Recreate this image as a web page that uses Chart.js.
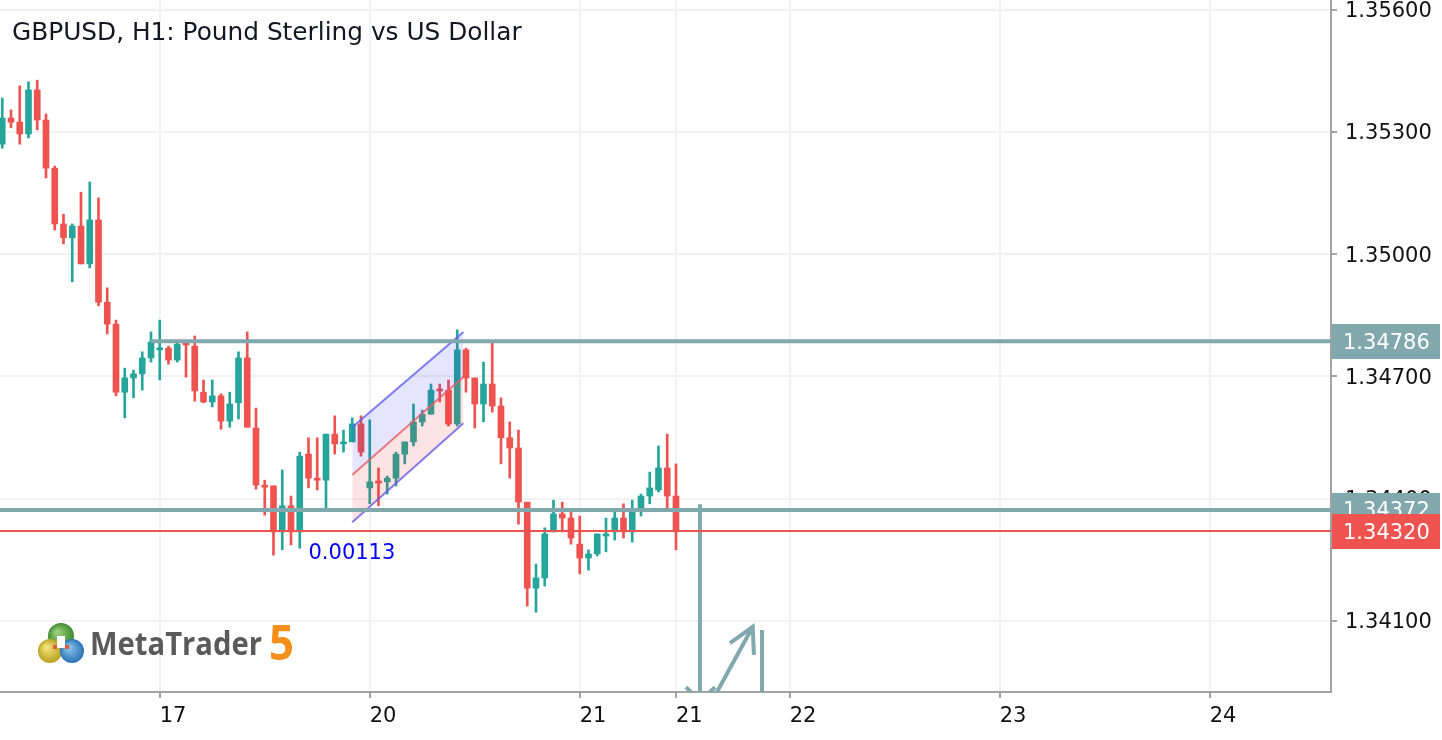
<!DOCTYPE html>
<html><head><meta charset="utf-8">
<script src="https://cdn.jsdelivr.net/npm/chart.js@4.4.0/dist/chart.umd.min.js"></script>
<style>html,body{margin:0;padding:0;background:#fff;overflow:hidden}#wrap{width:1442px;height:740px;position:relative}</style>
</head><body><div id="wrap"><canvas id="c"></canvas></div>
<script>
const chartTitle = "GBPUSD, H1: Pound Sterling vs US Dollar";
const opens = [
1.35270,1.35334,1.35324,1.35295,1.35403,1.35329,1.35211,1.35074,1.35040,1.35069,
1.34976,1.35084,1.34882,1.34828,1.34661,1.34696,1.34706,1.34745,1.34765,1.34769,
1.34740,1.34779,1.34774,1.34661,1.34637,1.34652,1.34590,1.34635,1.34745,1.34573,
1.34431,1.34431,1.34318,1.34382,1.34318,1.34509,1.34450,1.34445,1.34558,1.34534,
1.34539,1.34583,1.34426,1.34441,1.34441,1.34450,1.34509,1.34539,1.34588,1.34607,
1.34666,1.34666,1.34583,1.34765,1.34696,1.34632,1.34681,1.34627,1.34549,1.34524,
1.34391,1.34180,1.34205,1.34318,1.34362,1.34352,1.34288,1.34254,1.34264,1.34308,
1.34318,1.34352,1.34318,1.34377,1.34406,1.34421,1.34475,1.34406];
const highs = [
1.35383,1.35354,1.35413,1.35423,1.35427,1.35344,1.35216,1.35098,1.35074,1.35152,
1.35177,1.35138,1.34917,1.34838,1.34720,1.34715,1.34760,1.34809,1.34838,1.34774,
1.34784,1.34784,1.34799,1.34691,1.34691,1.34657,1.34661,1.34760,1.34809,1.34622,
1.34445,1.34431,1.34470,1.34406,1.34514,1.34549,1.34549,1.34558,1.34603,1.34568,
1.34598,1.34603,1.34593,1.34475,1.34455,1.34514,1.34539,1.34632,1.34617,1.34681,
1.34681,1.34691,1.34814,1.34769,1.34696,1.34735,1.34784,1.34647,1.34588,1.34568,
1.34391,1.34239,1.34328,1.34396,1.34391,1.34367,1.34357,1.34274,1.34313,1.34352,
1.34367,1.34387,1.34396,1.34411,1.34465,1.34529,1.34558,1.34485];
const lows = [
1.35260,1.35310,1.35270,1.35285,1.35305,1.35187,1.35059,1.35025,1.34932,1.34976,
1.34966,1.34873,1.34804,1.34652,1.34598,1.34647,1.34666,1.34735,1.34691,1.34730,
1.34735,1.34698,1.34639,1.34635,1.34625,1.34570,1.34575,1.34595,1.34575,1.34423,
1.34359,1.34261,1.34274,1.34286,1.34278,1.34426,1.34421,1.34374,1.34509,1.34514,
1.34539,1.34504,1.34387,1.34382,1.34411,1.34431,1.34485,1.34529,1.34578,1.34607,
1.34637,1.34578,1.34578,1.34661,1.34573,1.34588,1.34612,1.34485,1.34450,1.34337,
1.34136,1.34121,1.34185,1.34318,1.34318,1.34288,1.34215,1.34224,1.34259,1.34269,
1.34298,1.34303,1.34293,1.34357,1.34387,1.34416,1.34377,1.34274];
const closes = [
1.35334,1.35324,1.35295,1.35403,1.35329,1.35211,1.35074,1.35040,1.35069,1.34976,
1.35084,1.34882,1.34828,1.34661,1.34696,1.34706,1.34745,1.34784,1.34769,1.34740,
1.34779,1.34777,1.34664,1.34637,1.34652,1.34590,1.34632,1.34745,1.34575,1.34433,
1.34428,1.34318,1.34382,1.34318,1.34504,1.34450,1.34445,1.34558,1.34534,1.34539,
1.34583,1.34514,1.34441,1.34438,1.34450,1.34509,1.34539,1.34588,1.34607,1.34666,
1.34664,1.34583,1.34765,1.34696,1.34632,1.34681,1.34627,1.34549,1.34524,1.34391,
1.34180,1.34205,1.34313,1.34362,1.34352,1.34303,1.34254,1.34264,1.34313,1.34313,
1.34352,1.34318,1.34367,1.34406,1.34426,1.34475,1.34406,1.34320];

const xTickPositions = [18, 42, 66, 77, 90, 114, 138];
const xTickLabels = ["17", "20", "21", "21", "22", "23", "24"];
const yTickValues = [1.341, 1.344, 1.347, 1.350, 1.353, 1.356];
const xRange = [-0.257, 151.86];
const yRange = [1.33925, 1.356238];

const resistanceLevel = 1.34786, resistanceStart = 17;
const supportLevel = 1.34372;
const currentPrice = 1.34320;

const channelX = [40, 52.7];
const channelUpper = [1.34575, 1.34809];
const channelMid = [1.34458, 1.34698];
const channelLower = [1.34342, 1.34585];
const channelLabel = "0.00113";
const channelLabelAt = [35, 1.34264];

const markVertical1 = [[79.74, 1.34386], [79.74, 1.335]];
const markVertical2 = [[86.83, 1.34077], [86.83, 1.335]];
const markArrow = [[80.43, 1.33876], [85.77, 1.34085]];
const markArrowHead = [[83.17, 1.34045], [85.77, 1.34085], [85.91, 1.34016]];
const markV = [[78.14, 1.33937], [79.29, 1.33913]];
const markV2 = [[80.31, 1.33913], [81.46, 1.33937]];

const BULL = '#26a69a', BEAR = '#ef5350', LEVEL = '#80a8ad';
const idx = opens.map((_, i) => i);
const candleColors = idx.map(i => closes[i] >= opens[i] ? BULL : BEAR);
const pts = arr => arr.map(p => ({x: p[0], y: p[1]}));

function lineDs(data, color, width, extra) {
  return Object.assign({type: 'line', data: data, borderColor: color, borderWidth: width,
    pointRadius: 0, fill: false, tension: 0, clip: 0, order: 1}, extra || {});
}

const overlay = {
  id: 'overlay',
  afterDraw(chart) {
    const ctx = chart.ctx, xs = chart.scales.x, ys = chart.scales.y;
    ctx.save();
    ctx.font = '24.8px "DejaVu Sans"';
    ctx.fillStyle = '#131722';
    ctx.textBaseline = 'middle';
    ctx.textAlign = 'left';
    ctx.fillText(chartTitle, 12, 34);
    ctx.font = '21px "DejaVu Sans"';
    ctx.fillStyle = '#0000ff';
    ctx.fillText(channelLabel, xs.getPixelForValue(channelLabelAt[0]), ys.getPixelForValue(channelLabelAt[1]));
    const box = (v, bg) => {
      const y = ys.getPixelForValue(v);
      ctx.fillStyle = bg;
      ctx.fillRect(1332, Math.round(y) - 17, 108, 35);
      ctx.fillStyle = '#ffffff';
      ctx.font = '21px "DejaVu Sans"';
      ctx.fillText(v.toFixed(5), 1343, y + 2);
    };
    box(resistanceLevel, LEVEL);
    box(supportLevel, LEVEL);
    box(currentPrice, BEAR);
    const circ = (cx, cy, r, c1, c2) => {
      const g = ctx.createRadialGradient(cx - 4, cy - 4, 1, cx, cy, r);
      g.addColorStop(0, c1); g.addColorStop(1, c2);
      ctx.fillStyle = g; ctx.beginPath(); ctx.arc(cx, cy, r, 0, Math.PI * 2); ctx.fill();
    };
    circ(61, 636, 13, '#9bd07a', '#3f8a32');
    circ(50, 651, 12, '#f3e47a', '#b9a222');
    circ(72, 651, 12, '#8ac6f0', '#2a72b5');
    ctx.fillStyle = '#ffffff'; ctx.fillRect(57, 636, 8, 12);
    ctx.fillStyle = '#e8563a'; ctx.fillRect(53, 645, 4, 4); ctx.fillRect(65, 645, 4, 4);
    ctx.textBaseline = 'alphabetic';
    ctx.font = 'bold 32px "Open Sans"';
    ctx.fillStyle = '#5a5a5a';
    let w = ctx.measureText('MetaTrader').width;
    ctx.save(); ctx.translate(90, 655); ctx.scale(172 / w, 1); ctx.fillText('MetaTrader', 0, 0); ctx.restore();
    ctx.font = 'bold 48px "Open Sans"';
    ctx.fillStyle = '#f39019';
    w = ctx.measureText('5').width;
    ctx.save(); ctx.translate(269, 660); ctx.scale(25 / w, 1); ctx.fillText('5', 0, 0); ctx.restore();
    ctx.restore();
  }
};

new Chart(document.getElementById('c'), {
  type: 'bar',
  data: {
    datasets: [
      {type: 'bar', data: idx.map(i => ({x: i, y: [lows[i], highs[i]]})), backgroundColor: candleColors,
        barThickness: 2, grouped: false, order: 10, borderWidth: 0},
      {type: 'bar', data: idx.map(i => ({x: i, y: [opens[i], closes[i]]})), backgroundColor: candleColors,
        barThickness: 6, grouped: false, order: 9, borderWidth: 0, minBarLength: 2},
      lineDs(pts([[channelX[0], channelUpper[0]], [channelX[1], channelUpper[1]]]), 'rgba(95,95,245,0.8)', 2,
        {fill: '+1', backgroundColor: 'rgba(40,40,235,0.12)', order: 3}),
      lineDs(pts([[channelX[0], channelMid[0]], [channelX[1], channelMid[1]]]), 'rgba(245,95,95,0.8)', 2,
        {fill: '+1', backgroundColor: 'rgba(240,30,30,0.12)', order: 3}),
      lineDs(pts([[channelX[0], channelLower[0]], [channelX[1], channelLower[1]]]), 'rgba(95,95,245,0.8)', 2, {order: 3}),
      lineDs(pts([[resistanceStart, resistanceLevel], [xRange[1], resistanceLevel]]), LEVEL, 4),
      lineDs(pts([[xRange[0], supportLevel], [xRange[1], supportLevel]]), LEVEL, 4),
      lineDs(pts([[xRange[0], currentPrice], [xRange[1], currentPrice]]), BEAR, 2),
      lineDs(pts(markVertical1), LEVEL, 4),
      lineDs(pts(markVertical2), LEVEL, 4),
      lineDs(pts(markArrow), LEVEL, 4),
      lineDs(pts(markArrowHead), LEVEL, 4),
      lineDs(pts(markV), LEVEL, 4),
      lineDs(pts(markV2), LEVEL, 4)
    ]
  },
  options: {
    responsive: true, maintainAspectRatio: false, animation: false,
    layout: {padding: 0},
    plugins: {legend: {display: false}, tooltip: {enabled: false}},
    events: [],
    scales: {
      x: {
        type: 'linear', min: xRange[0], max: xRange[1], offset: false,
        grid: {offset: false, color: '#f2f2f2', lineWidth: 2, tickColor: '#a3a3a3', tickLength: 6},
        border: {color: '#a3a3a3', width: 2},
        ticks: {align: 'start', autoSkip: false, maxRotation: 0, padding: 6, color: '#111111',
          font: {family: 'DejaVu Sans', size: 21}, callback: (v, i) => xTickLabels[i]},
        afterBuildTicks: s => { s.ticks = xTickPositions.map(v => ({value: v})); },
        afterFit: s => { s.height = 48; s.paddingLeft = 0; s.paddingRight = 0; }
      },
      y: {
        type: 'linear', position: 'right', min: yRange[0], max: yRange[1],
        grid: {offset: false, color: '#f2f2f2', lineWidth: 2, tickColor: '#a3a3a3', tickLength: 6},
        border: {color: '#a3a3a3', width: 2},
        ticks: {padding: 8, labelOffset: 2, color: '#111111', font: {family: 'DejaVu Sans', size: 21},
          callback: v => v.toFixed(5)},
        afterBuildTicks: s => { s.ticks = yTickValues.map(v => ({value: v})); },
        afterFit: s => { s.width = 111; s.paddingTop = 0; s.paddingBottom = 0; }
      }
    }
  },
  plugins: [overlay]
});
</script>
</body></html>
